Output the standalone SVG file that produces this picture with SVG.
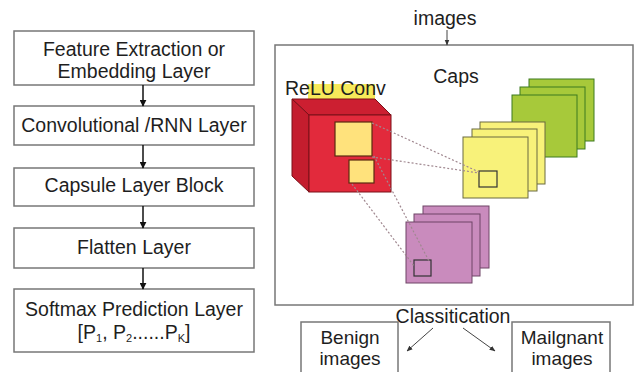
<svg xmlns="http://www.w3.org/2000/svg" width="635" height="372" viewBox="0 0 635 372">
<defs>
<marker id="ah" viewBox="0 0 10 10" refX="9" refY="5" markerWidth="7" markerHeight="7" orient="auto" markerUnits="userSpaceOnUse"><path d="M0,0 L10,5 L0,10 z" fill="#111"/></marker>
<marker id="ahs" viewBox="0 0 10 10" refX="9" refY="5" markerWidth="6" markerHeight="6" orient="auto" markerUnits="userSpaceOnUse"><path d="M0,1 L10,5 L0,9 z" fill="#333"/></marker>
</defs>
<style>
text{font-family:"Liberation Sans",Arial,sans-serif;fill:#1e1e1e;}
.t{font-size:19.5px;text-anchor:middle;}
.s{font-size:19px;text-anchor:middle;}
.box{fill:#fff;stroke:#777;stroke-width:1.5;}
.conn{stroke:#111;stroke-width:1.5;fill:none;marker-end:url(#ah);}
.thin{stroke:#444;stroke-width:1;fill:none;marker-end:url(#ahs);}
.dot{stroke:#a08890;stroke-width:1.2;stroke-dasharray:2,2;fill:none;}
.yl{fill:#f8f27a;stroke:#6a6a40;stroke-width:1;}
.gr{fill:#a7c93a;stroke:#3c7a1e;stroke-width:1;}
.pu{fill:#c98bbd;stroke:#6e4566;stroke-width:1;}
.sq{fill:none;stroke:#333;stroke-width:1.2;}
</style>
<rect width="635" height="372" fill="#fff"/>

<g id="n1"><rect class="box" x="14" y="31" width="240" height="54"/><text class="t" x="134" y="56">Feature Extraction or</text><text class="t" x="134" y="78">Embedding Layer</text></g>
<g id="n2"><rect class="box" x="14" y="106" width="240" height="39"/><text class="t" x="134" y="132">Convolutional /RNN Layer</text></g>
<g id="n3"><rect class="box" x="14" y="168" width="240" height="38"/><text class="t" x="134" y="192">Capsule Layer Block</text></g>
<g id="n4"><rect class="box" x="14" y="228" width="240" height="40"/><text class="t" x="134" y="254">Flatten Layer</text></g>
<g id="n5"><rect class="box" x="14" y="289" width="240" height="63"/><text class="t" x="134" y="316">Softmax Prediction Layer</text><text class="t" x="134" y="339">[P<tspan font-size="11" dy="3">1</tspan><tspan dy="-3">, P</tspan><tspan font-size="11" dy="3">2</tspan><tspan dy="-3">......P</tspan><tspan font-size="11" dy="3">K</tspan><tspan dy="-3">]</tspan></text></g>

<g id="capsnet">
<rect class="box" x="275" y="45" width="358" height="260"/>
<text class="t" x="445" y="25">images</text>
<text class="t" x="456" y="83">Caps</text>
<rect x="308" y="84" width="67" height="16" fill="#f7ea5a"/>
<text x="285" y="95" style="font-size:19.5px">ReLU Conv</text>
<!-- red cube -->
<polygon points="292,99 375,99 391,115 309,115" fill="#cc1f31" stroke="#7a1018" stroke-width="1"/>
<polygon points="292,99 309,115 309,192 292,176" fill="#c41d2e" stroke="#7a1018" stroke-width="1"/>
<rect x="309" y="115" width="82" height="77" fill="#e22a3c" stroke="#7a1018" stroke-width="1"/>
<rect x="335" y="122" width="37" height="34" fill="#ffe27c" stroke="#5a2a10" stroke-width="1.2"/>
<rect x="349" y="160" width="25" height="23" fill="#ffe27c" stroke="#5a2a10" stroke-width="1.2"/>
<!-- green stack -->
<rect class="gr" x="529" y="79" width="65" height="62"/>
<rect class="gr" x="520" y="87" width="65" height="62"/>
<rect class="gr" x="512" y="95" width="65" height="62"/>
<!-- yellow stack -->
<rect class="yl" x="480" y="122" width="65" height="62"/>
<rect class="yl" x="472" y="129" width="65" height="62"/>
<rect class="yl" x="463" y="137" width="65" height="61"/>
<rect class="sq" x="479" y="171" width="18" height="16"/>
<!-- purple stack -->
<rect class="pu" x="423" y="206" width="66" height="62"/>
<rect class="pu" x="414" y="214" width="66" height="62"/>
<rect class="pu" x="406" y="222" width="66" height="61"/>
<rect class="sq" x="414" y="260" width="17" height="16"/>
</g>

<g id="connectors">
<line class="conn" x1="143" y1="85" x2="143" y2="106"/>
<line class="conn" x1="143" y1="145" x2="143" y2="168"/>
<line class="conn" x1="143" y1="206" x2="143" y2="228"/>
<line class="conn" x1="143" y1="268" x2="143" y2="289"/>
<line class="thin" x1="447" y1="30" x2="447" y2="45"/>
<line class="dot" x1="372" y1="123" x2="479" y2="172"/>
<line class="dot" x1="372" y1="157" x2="479" y2="173"/>
<line class="dot" x1="352" y1="184" x2="414" y2="266"/>
<line class="dot" x1="374" y1="156" x2="429" y2="261"/>
<line class="thin" x1="433" y1="328" x2="407" y2="351"/>
<line class="thin" x1="463" y1="328" x2="495" y2="351"/>
</g>

<text class="t" x="453" y="323">Classitication</text>
<g id="benign"><rect class="box" x="301" y="322" width="97" height="60"/><text class="s" x="350" y="344">Benign</text><text class="s" x="350" y="365">images</text></g>
<g id="malignant"><rect class="box" x="512" y="322" width="98" height="60"/><text class="s" x="562" y="344">Mailgnant</text><text class="s" x="562" y="365">images</text></g>
</svg>
